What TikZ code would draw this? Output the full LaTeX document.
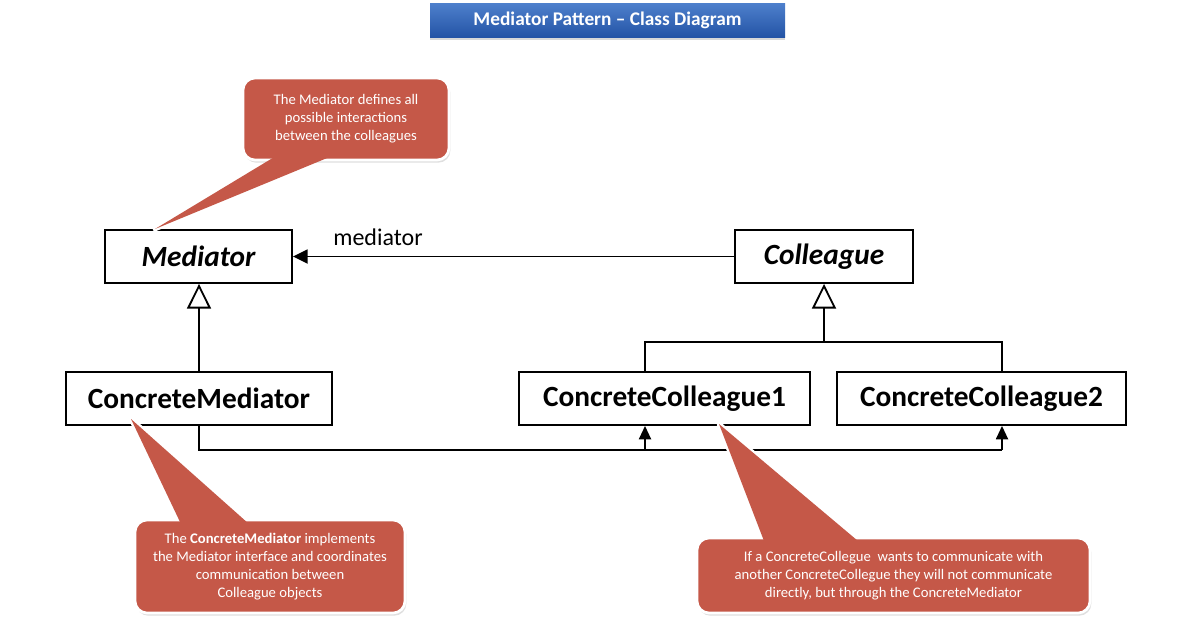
\documentclass[tikz,border=0pt]{standalone}
\usepackage{fontspec}
\setmainfont{Carlito}
\usetikzlibrary{arrows.meta,shadows}

\definecolor{noteRed}{RGB}{197,88,72}
\definecolor{titleTop}{RGB}{78,128,204}
\definecolor{titleBot}{RGB}{36,84,166}

\tikzset{
  classbox/.style={draw, line width=1.4pt, fill=white, minimum height=39.75pt, inner sep=0pt,
    font=\fontsize{22}{24}\selectfont\bfseries},
  notebox/.style={fill=noteRed, draw=white, line width=2pt, rounded corners=9pt, text=white,
    align=center, inner sep=0pt, font=\fontsize{11}{13.5}\selectfont,
    drop shadow={shadow xshift=1pt, shadow yshift=-2pt, opacity=0.25}},
  noteedge/.style={draw=white, line width=3.5pt, line join=round},
  link/.style={line width=1.4pt},
}

\begin{document}
\begin{tikzpicture}[x=0.75pt,y=-0.75pt]

\useasboundingbox [fill=white] (0,0) rectangle (1180,636);

% title bar
\node [minimum width=266.25pt, minimum height=25.5pt, top color=titleTop, bottom color=titleBot,
  text=white, font=\fontsize{14.5}{16}\selectfont\bfseries,
  drop shadow={shadow xshift=0pt, shadow yshift=-2pt, opacity=0.3}] (title) at (607.5,20)
  {Mediator Pattern -- Class Diagram};

% classes
\node [classbox, minimum width=140.25pt, font=\fontsize{22}{24}\selectfont\bfseries\itshape] (med) at (198.5,256.5) {Mediator};
\node [classbox, minimum width=133.5pt, font=\fontsize{22}{24}\selectfont\bfseries\itshape] (col) at (824,256.5) {Colleague};
\node [classbox, minimum width=199.5pt] (cmed) at (199,398.5) {ConcreteMediator};
\node [classbox, minimum width=218.25pt] (cc1) at (664.5,398.5) {ConcreteColleague1};
\node [classbox, minimum width=216.75pt] (cc2) at (981.5,398.5) {ConcreteColleague2};

% association
\draw [link, -{Triangle[width=10.5pt,length=11pt]}] (col.west) -- (med.east);
\node [font=\fontsize{18}{20}\selectfont] (lbl) at (378,237) {mediator};

% inheritance
\coordinate (j0) at (824,342);
\coordinate (j1) at (645,342);
\coordinate (j2) at (1002,342);
\coordinate (b) at (200,450);

\draw [link, -{Triangle[open,width=18pt,length=18.5pt]}] (cmed.north) -- (cmed.north |- med.south);
\draw [link, -{Triangle[open,width=18pt,length=18.5pt]}] (j0) -- (col.south);
\draw [link] (j1 |- cc1.north) -- (j1) -- (j2) -- (j2 |- cc2.north);

% mediator to colleagues
\draw [link] (cmed.south) -- (cmed.south |- b) -- (j2 |- b);
\foreach \k in {1,2}
  \draw [link, -{Triangle[width=9pt,length=10pt]}] (j\k |- b) -- (j\k |- cc\k.south);

% notes
\coordinate (tip1) at (155,229);
\draw [noteedge] (276,156) -- (tip1) -- (332,156);
\node [notebox, minimum width=154.5pt, minimum height=61.5pt] (note1) at (346,119)
  {The Mediator defines all\\possible interactions\\between the colleagues};
\fill [noteRed] (276,156) -- (tip1) -- (332,156) -- cycle;

\coordinate (tip2) at (131,419);
\draw [noteedge] (181,524) -- (tip2) -- (249,524);
\node [notebox, minimum width=202.5pt, minimum height=69.75pt] (note2) at (270,566.5)
  {The \textbf{ConcreteMediator} implements\\the Mediator interface and coordinates\\communication between\\Colleague objects};
\fill [noteRed] (181,524) -- (tip2) -- (249,524) -- cycle;

\coordinate (tip3) at (719,424);
\draw [noteedge] (764,541) -- (tip3) -- (858,541);
\node [notebox, minimum width=294.75pt, minimum height=56.25pt] (note3) at (893.5,575.5)
  {If a ConcreteCollegue\ \ wants to communicate with\\another ConcreteCollegue\ they will not communicate\\directly, but through the ConcreteMediator};
\fill [noteRed] (764,541) -- (tip3) -- (858,541) -- cycle;

\end{tikzpicture}
\end{document}
